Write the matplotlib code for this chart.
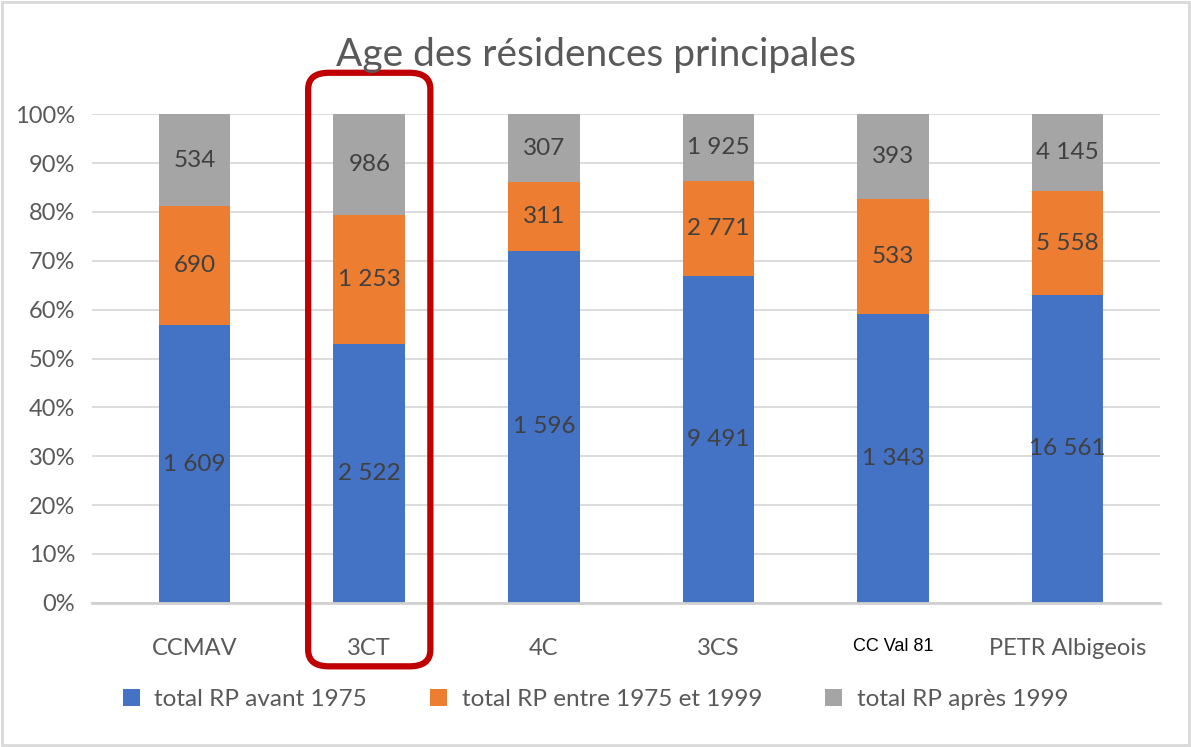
import matplotlib
matplotlib.use('Agg')
import matplotlib.pyplot as plt
from matplotlib.patches import FancyBboxPatch, Rectangle
import matplotlib.transforms as mtransforms
import numpy as np

# data
categories = ['CCMAV', '3CT', '4C', '3CS', 'CC Val 81', 'PETR Albigeois']
avant_1975 = [1609, 2522, 1596, 9491, 1343, 16561]
entre_1975_1999 = [690, 1253, 311, 2771, 533, 5558]
apres_1999 = [534, 986, 307, 1925, 393, 4145]
series_names = ['total RP avant 1975', 'total RP entre 1975 et 1999', 'total RP après 1999']
colors = ['#4472C4', '#ED7D31', '#A5A5A5']

plt.rcParams['font.family'] = ['Lato', 'DejaVu Sans']

fig = plt.figure(figsize=(11.91, 7.47), dpi=100)
ax = fig.add_axes([0.077, 0.193, 0.897, 0.654])

x = np.arange(len(categories))
series = [np.array(avant_1975), np.array(entre_1975_1999), np.array(apres_1999)]
total = sum(series)
bottom = np.zeros(len(categories))

def fmt(v):
    # french thousands separator
    return '{:,}'.format(v).replace(',', ' ')

for s, name, col in zip(series, series_names, colors):
    pct = s / total * 100
    ax.bar(x, pct, 0.41, bottom=bottom, color=col, label=name, zorder=2)
    for xi, b, p, v in zip(x, bottom, pct, s):
        ax.text(xi, b + p / 2, fmt(v), ha='center', va='center',
                fontsize=17.5, color='#404040', zorder=3)
    bottom = bottom + pct

ax.set_ylim(0, 100)
ax.set_xlim(-0.59, 5.53)
ax.set_yticks(np.arange(0, 101, 10))
ax.set_yticklabels([str(t) + '%' for t in range(0, 101, 10)])
ax.yaxis.grid(True, color='#d9d9d9', linewidth=1.3, zorder=0)
ax.set_axisbelow(True)
for sp in ['top', 'right', 'left']:
    ax.spines[sp].set_visible(False)
ax.spines['bottom'].set_color('#d0d0d0')
ax.spines['bottom'].set_linewidth(2)
ax.tick_params(axis='both', length=0, labelsize=17, colors='#595959')
ax.tick_params(axis='y', pad=12)
ax.set_xticks(x)
ax.set_xticklabels(categories)
ax.tick_params(axis='x', pad=25)
# CC Val 81 is in another font in the original
lab = ax.get_xticklabels()[4]
lab.set_family('Liberation Sans')
lab.set_fontsize(13)
lab.set_color('black')

fig.text(0.5, 0.927, 'Age des résidences principales', ha='center', va='center',
         fontsize=28, color='#595959')

leg = fig.legend(loc='center', bbox_to_anchor=(0.5, 0.063), ncol=3, frameon=False,
                 fontsize=17.5, handlelength=0.7, handleheight=0.7, columnspacing=2.6,
                 handletextpad=0.6)
for t in leg.get_texts():
    t.set_color('#595959')

# red highlight around 3CT
trans = mtransforms.blended_transform_factory(ax.transData, ax.transAxes)
box = FancyBboxPatch((1 - 0.35, -0.13), 0.70, 1.215,
                     boxstyle='round,pad=0,rounding_size=0.12',
                     mutation_aspect=1.0 / 3.6,
                     transform=trans, fill=False, edgecolor='#C00000',
                     linewidth=4.5, clip_on=False, zorder=5)
ax.add_patch(box)

# chart border
fig.patches.append(Rectangle((0.002, 0.003), 0.996, 0.994, transform=fig.transFigure,
                             fill=False, edgecolor='#d9d9d9', linewidth=2))

fig.savefig('out.png', dpi=100)
